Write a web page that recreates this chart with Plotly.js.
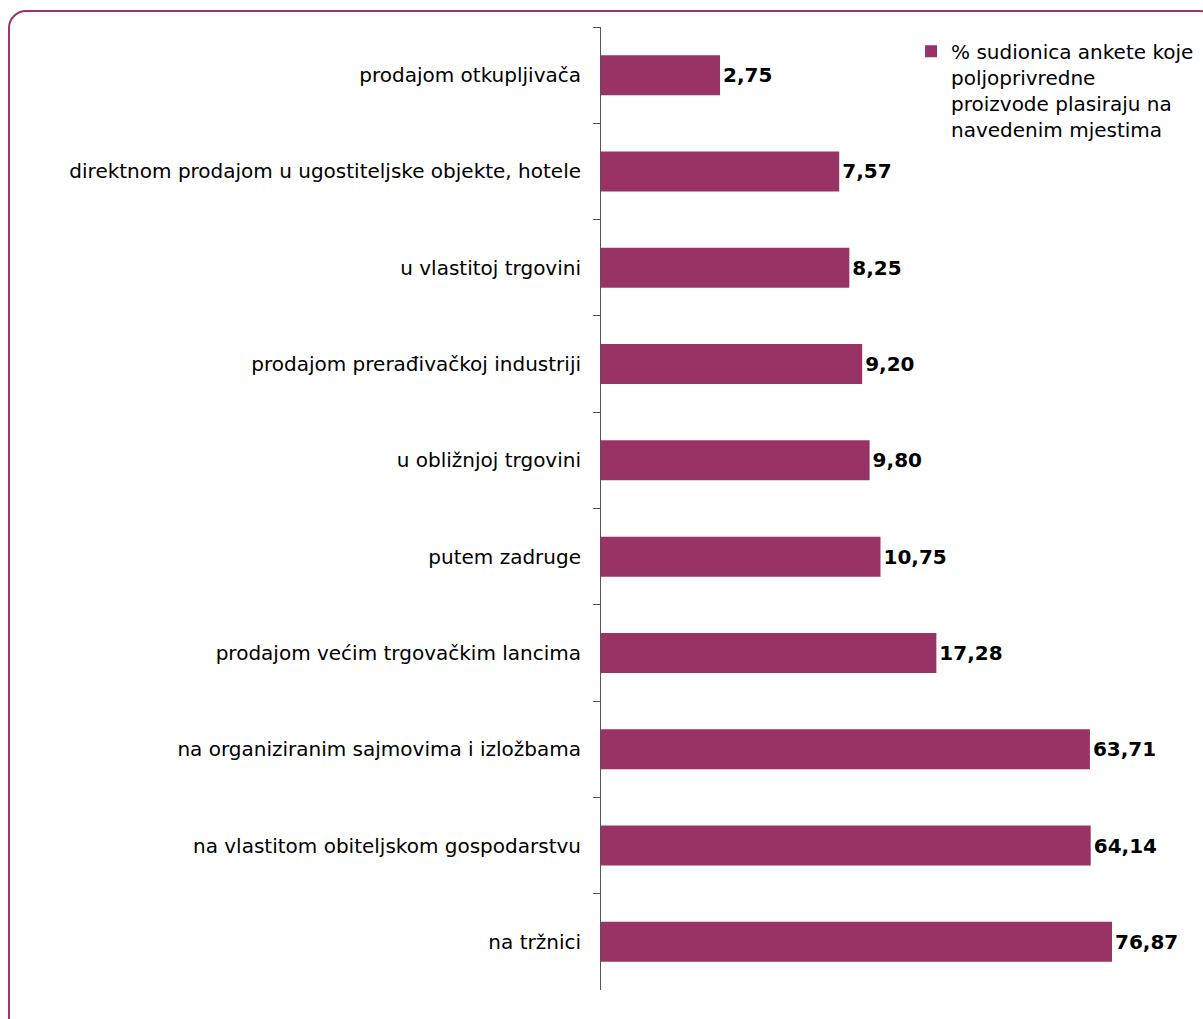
<!DOCTYPE html>
<html>
<head>
<meta charset="utf-8">
<script src="https://cdn.plot.ly/plotly-3.0.1.min.js"></script>
<style>
  html, body { margin: 0; padding: 0; background: #ffffff; overflow: hidden; }
  #wrap { position: relative; width: 1203px; height: 1019px; }
  #chart { position: absolute; left: 0; top: 0; width: 1203px; height: 1019px; }
  #frame { position: absolute; left: 8px; top: 10px; width: 1210px; height: 1030px;
           border: 2px solid #9b3565; border-radius: 18px; box-sizing: border-box; pointer-events: none; }
</style>
</head>
<body>
<div id="wrap">
  <div id="chart"></div>
  <div id="frame"></div>
</div>
<script>
const categories = [
  "prodajom otkupljivača",
  "direktnom prodajom u ugostiteljske objekte, hotele",
  "u vlastitoj trgovini",
  "prodajom prerađivačkoj industriji",
  "u obližnjoj trgovini",
  "putem zadruge",
  "prodajom većim trgovačkim lancima",
  "na organiziranim sajmovima i izložbama",
  "na vlastitom obiteljskom gospodarstvu",
  "na tržnici"
];
const values = [2.75, 7.57, 8.25, 9.20, 9.80, 10.75, 17.28, 63.71, 64.14, 76.87];
const valueLabels = ["2,75", "7,57", "8,25", "9,20", "9,80", "10,75", "17,28", "63,71", "64,14", "76,87"];
const seriesName = "% sudionica ankete koje<br>poljoprivredne<br>proizvode plasiraju na<br>navedenim mjestima";

const FONT = "DejaVu Sans, Liberation Sans, Arial, sans-serif";

const trace = {
  type: "bar",
  orientation: "h",
  x: values,
  y: categories,
  name: seriesName,
  text: valueLabels,
  textposition: "outside",
  cliponaxis: false,
  textfont: { family: FONT, size: 20, color: "#000000", weight: "bold" },
  marker: { color: "#993366", line: { width: 0 } },
  hoverinfo: "x+y",
  showlegend: true
};

const layout = {
  width: 1203,
  height: 1019,
  margin: { l: 601, r: 0, t: 27, b: 29 },
  paper_bgcolor: "rgba(0,0,0,0)",
  plot_bgcolor: "rgba(0,0,0,0)",
  font: { family: FONT, size: 20, color: "#000000" },
  bargap: 0.585,
  showlegend: true,
  legend: {
    x: 0.515, y: 0.995, xanchor: "left", yanchor: "top",
    valign: "top",
    bgcolor: "rgba(0,0,0,0)",
    font: { family: FONT, size: 20, color: "#000000" },
    itemclick: false
  },
  xaxis: {
    type: "log",
    range: [0, 2],
    domain: [0, 0.9003],
    visible: false,
    showgrid: false,
    zeroline: false,
    fixedrange: true
  },
  yaxis: {
    type: "category",
    autorange: "reversed",
    showline: true,
    linecolor: "#555555",
    linewidth: 1,
    ticks: "outside",
    tickson: "boundaries",
    ticklen: 7,
    tickcolor: "#555555",
    tickwidth: 1,
    ticklabelstandoff: 15,
    showgrid: false,
    zeroline: false,
    tickfont: { family: FONT, size: 20, color: "#000000" },
    fixedrange: true
  }
};

Plotly.newPlot("chart", [trace], layout, { displayModeBar: false, staticPlot: true });
</script>
</body>
</html>
